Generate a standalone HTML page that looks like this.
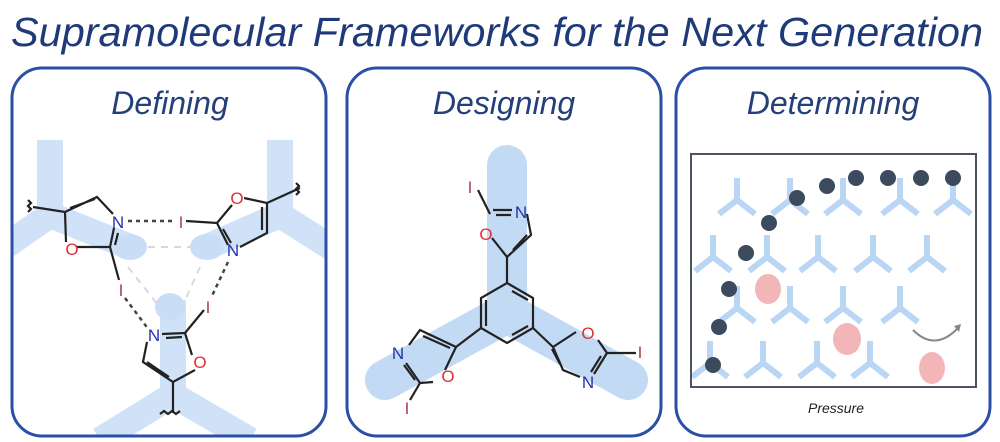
<!DOCTYPE html>
<html><head><meta charset="utf-8"><style>
html,body{margin:0;padding:0;background:#fff;width:1000px;height:442px;overflow:hidden}
svg{display:block}
text{font-family:"Liberation Sans",sans-serif}
</style></head><body>
<svg width="1000" height="442" viewBox="0 0 1000 442">
<defs>
<clipPath id="c1"><rect x="12" y="68" width="314" height="368" rx="30"/></clipPath>
<clipPath id="c3"><rect x="691" y="154" width="285" height="233"/></clipPath>
</defs>
<text x="497" y="46" text-anchor="middle" font-size="41" font-style="italic" fill="#1f3a78" textLength="972" lengthAdjust="spacingAndGlyphs">Supramolecular Frameworks for the Next Generation</text>

<!-- Panel 1 -->
<g clip-path="url(#c1)">
<g stroke="#cfe2f7" stroke-width="26" fill="none" stroke-linecap="butt">
<path d="M50,140 L50,215 L0,250 M50,215 L130,247"/>
<path d="M280,140 L280,215 L335,250 M280,215 L207,247"/>
<path d="M173,300 L173,395 L100,440 M173,395 L250,440"/>
</g>
<g fill="#c9def6"><ellipse cx="130" cy="247" rx="17" ry="13"/><ellipse cx="207" cy="247" rx="17" ry="13"/><ellipse cx="170" cy="307" rx="15" ry="14"/></g>
</g>
<rect x="12" y="68" width="314" height="368" rx="30" fill="none" stroke="#2b4fa6" stroke-width="3"/>
<text x="170" y="114" text-anchor="middle" font-size="32" font-style="italic" fill="#24407a">Defining</text>
<g stroke="#d8d8e0" stroke-width="2" stroke-dasharray="7,6"><path d="M135,247 L195,247 M128,267 L158,305 M200,267 L182,307"/></g>
<g stroke="#222" stroke-width="2.2" fill="none">
<path d="M33,207 L65,212 L97,197 L113,214 M110,247 L77,247 M66,242 L65,212 M70,208 L95,199 M114,228 L110,247 M118,233 L115,245 M110,247 L119,280"/>
<path d="M186,221 L217,223 L232,205 M267,203 L244,198 M267,203 L267,233 L240,247 M217,223 L228,245 M223,229 L231,243 M262,207 L262,230 M267,203 L300,188"/>
<path d="M162,334 L185,333 L192,355 M195,370 L173,382 L143,362 L147,342 M185,333 L204,310 M173,382 L173,413 M166,338 L182,337 M169,377 L147,362"/>
<path d="M28,200 l3,3 -3,3 3,3 -3,3 M296,183 l3,3 -3,3 3,3 -3,3 M160,414 l4,-3 4,3 4,-3 4,3 4,-3"/>
</g>
<g stroke="#444" stroke-width="2.5" stroke-dasharray="4,4"><path d="M128,221 L176,221 M228,262 L211,298 M125,298 L149,330"/></g>
<g font-size="17" text-anchor="middle">
<text x="118" y="228" fill="#2233aa">N</text><text x="72" y="255" fill="#e03030">O</text><text x="121" y="296" fill="#b04050">I</text>
<text x="181" y="228" fill="#b04050">I</text><text x="237" y="204" fill="#e03030">O</text><text x="233" y="256" fill="#2233aa">N</text>
<text x="154" y="341" fill="#2233aa">N</text><text x="200" y="368" fill="#e03030">O</text><text x="208" y="313" fill="#b04050">I</text>
</g>

<!-- Panel 2 -->
<g stroke="#c3daf5" stroke-width="40" stroke-linecap="round" fill="none"><path d="M507,165 L507,313 L385,380 M507,313 L628,380"/></g>
<rect x="347" y="68" width="314" height="368" rx="30" fill="none" stroke="#2b4fa6" stroke-width="3"/>
<text x="504" y="114" text-anchor="middle" font-size="32" font-style="italic" fill="#24407a">Designing</text>
<g stroke="#222" stroke-width="2.2" fill="none">
<path d="M507,283 L533,298 L533,328 L507,343 L481,328 L481,298 Z M512,291 L528,300 M528,326 L512,335 M486,326 L486,300"/>
<path d="M507,283 L507,257 M533,328 L553,347 M481,328 L456,347"/>
<path d="M507,257 L492,238 M490,214 L478,190 M493,210 L512,210 M496,215 L511,215 M527,214 L531,235 L507,257 M513,250 L527,235"/>
<path d="M553,347 L576,332 M598,340 L607,353 L636,353 M607,353 L594,374 M601,356 L591,372 M580,377 L563,370 L553,347 M560,364 L552,349"/>
<path d="M456,347 L445,370 M433,382 L420,383 L410,400 M420,383 L406,363 M415,380 L404,365 M409,345 L420,330 L456,347 M423,336 L450,348"/>
</g>
<g font-size="17" text-anchor="middle">
<text x="470" y="193" fill="#b04050">I</text><text x="521" y="218" fill="#2233aa">N</text><text x="486" y="240" fill="#e03030">O</text>
<text x="588" y="339" fill="#e03030">O</text><text x="640" y="358" fill="#b04050">I</text><text x="588" y="388" fill="#2233aa">N</text>
<text x="398" y="359" fill="#2233aa">N</text><text x="448" y="382" fill="#e03030">O</text><text x="407" y="414" fill="#b04050">I</text>
</g>

<!-- Panel 3 -->
<rect x="676" y="68" width="314" height="368" rx="30" fill="none" stroke="#2b4fa6" stroke-width="3"/>
<text x="833" y="114" text-anchor="middle" font-size="32" font-style="italic" fill="#24407a">Determining</text>
<g clip-path="url(#c3)" stroke="#b9d6f4" stroke-width="6" fill="none">
<g id="yrow">
<path d="M0,-22 L0,0 L-18,14 M0,0 L18,14"/>
</g>
<use href="#yrow" x="790" y="200"/><use href="#yrow" x="843" y="200"/><use href="#yrow" x="900" y="200"/><use href="#yrow" x="953" y="200"/><use href="#yrow" x="737" y="200"/>
<use href="#yrow" x="713" y="257"/><use href="#yrow" x="767" y="257"/><use href="#yrow" x="818" y="257"/><use href="#yrow" x="873" y="257"/><use href="#yrow" x="927" y="257"/>
<use href="#yrow" x="737" y="308"/><use href="#yrow" x="790" y="308"/><use href="#yrow" x="843" y="308"/><use href="#yrow" x="900" y="308"/>
<use href="#yrow" x="710" y="363"/><use href="#yrow" x="763" y="363"/><use href="#yrow" x="817" y="363"/><use href="#yrow" x="870" y="363"/>
</g>
<rect x="691" y="154" width="285" height="233" fill="none" stroke="#4a5560" stroke-width="2"/>
<g fill="#f3b6b8"><ellipse cx="768" cy="289" rx="13" ry="15"/><ellipse cx="847" cy="339" rx="14" ry="16"/><ellipse cx="932" cy="368" rx="13" ry="16"/></g>
<path d="M913,330 Q935,352 958,328" stroke="#888" stroke-width="2" fill="none"/>
<path d="M961,324 L954,326 L959,332 Z" fill="#888"/>
<g fill="#3b4a5c">
<circle cx="713" cy="365" r="8"/><circle cx="719" cy="327" r="8"/><circle cx="729" cy="289" r="8"/><circle cx="746" cy="253" r="8"/><circle cx="769" cy="223" r="8"/><circle cx="797" cy="198" r="8"/><circle cx="827" cy="186" r="8"/><circle cx="856" cy="178" r="8"/><circle cx="888" cy="178" r="8"/><circle cx="921" cy="178" r="8"/><circle cx="953" cy="178" r="8"/>
</g>
<text x="836" y="413" text-anchor="middle" font-size="14" font-style="italic" fill="#222">Pressure</text>
</svg>
</body></html>
